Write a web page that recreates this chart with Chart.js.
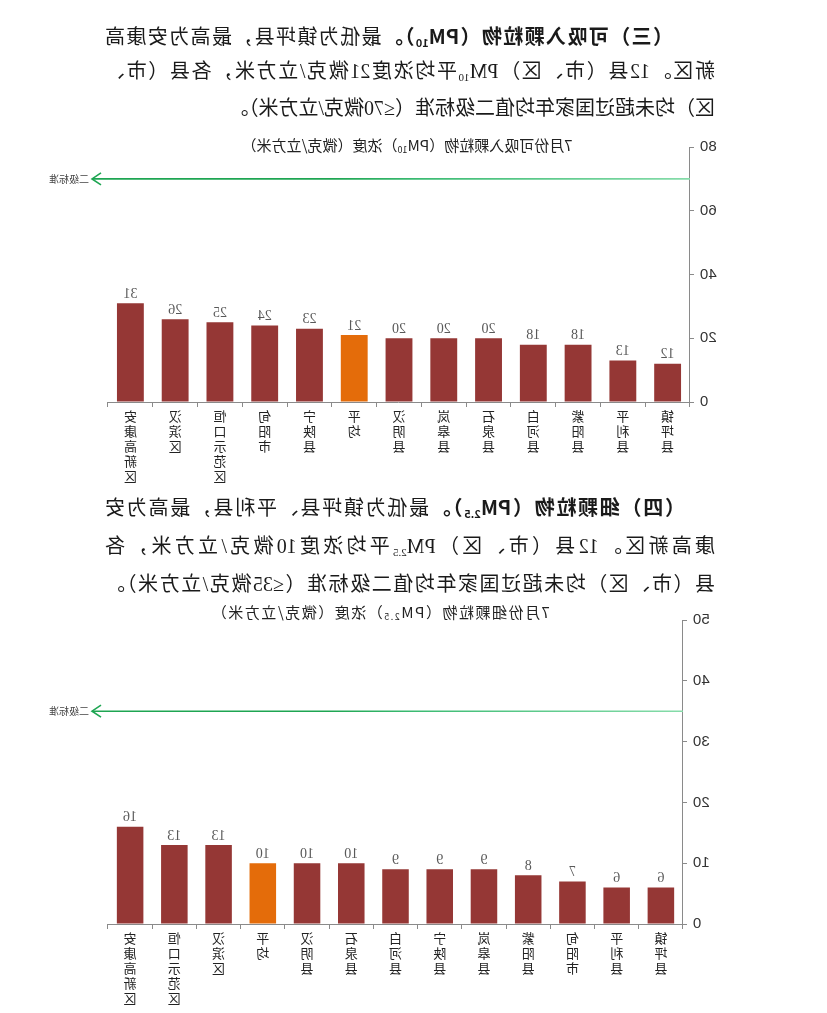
<!DOCTYPE html>
<html>
<head>
<meta charset="utf-8">
<script src="https://cdn.jsdelivr.net/npm/chart.js@4.4.1/dist/chart.umd.min.js"></script>
<style>
  html, body { margin: 0; padding: 0; background: #fff; }
  #page { position: relative; width: 827px; height: 1013px; overflow: hidden; transform: scaleX(-1); background: #fff; }
  .line { position: absolute; left: 112px; width: 610px; font-family: "Liberation Serif", "Noto Sans CJK SC", serif; font-size: 20px; line-height: 24px; color: #1a1a1a; text-align: justify; text-align-last: justify; }
  .line b { font-family: "Noto Sans CJK SC", sans-serif; font-weight: 700; }
  .line sub { font-size: 11px; line-height: 0; vertical-align: -3px; }
  .last { text-align-last: left; }
  .ctitle { position: absolute; font-family: "Noto Sans CJK SC", sans-serif; font-size: 15px; line-height: 18px; color: #222; white-space: nowrap; transform: translateX(-50%); }
  .ctitle sub { font-size: 9px; line-height: 0; vertical-align: -2px; }
  .chartbox { position: absolute; left: 0; width: 827px; }
</style>
</head>
<body>
<div id="page">
  <div class="line" style="top:24px; text-indent:42px;"><b>（三）可吸入颗粒物（PM<sub>10</sub>）。</b>最低为镇坪县，最高为安康高</div>
  <div class="line" style="top:59px;">新区。12县（市、区）PM<sub>10</sub>平均浓度21微克/立方米，各县（市、</div>
  <div class="line last" style="top:96px;">区）均未超过国家年均值二级标准（≤70微克/立方米）。</div>

  <div class="ctitle" style="left:420px; top:136px;">7月份可吸入颗粒物（PM<sub>10</sub>）浓度（微克/立方米）</div>
  <div class="chartbox" style="top:130px; height:360px;"><canvas id="c1"></canvas></div>

  <div class="line" style="top:495px; text-indent:30px;"><b>（四）细颗粒物（PM<sub>2.5</sub>）。</b>最低为镇坪县、平利县，最高为安</div>
  <div class="line" style="top:534px;">康高新区。12县（市、区）PM<sub>2.5</sub>平均浓度10微克/立方米，各</div>
  <div class="line" style="top:572px;">县（市、区）均未超过国家年均值二级标准（≤35微克/立方米）。</div>

  <div class="ctitle" style="left:447px; top:603px; letter-spacing:1.5px;">7月份细颗粒物（PM<sub>2.5</sub>）浓度（微克/立方米）</div>
  <div class="chartbox" style="top:605px; height:408px;"><canvas id="c2"></canvas></div>
</div>

<script>
// ---- data ----
const pm10Categories = ["镇坪县", "平利县", "紫阳县", "白河县", "石泉县", "岚皋县", "汉阴县", "平均", "宁陕县", "旬阳市", "恒口示范区", "汉滨区", "安康高新区"];
const pm10Values = [12, 13, 18, 18, 20, 20, 20, 21, 23, 24, 25, 26, 31];
const pm10Standard = 70;
const pm10AxisMax = 80;
const pm10AxisStep = 20;

const pm25Categories = ["镇坪县", "平利县", "旬阳市", "紫阳县", "岚皋县", "宁陕县", "白河县", "石泉县", "汉阴县", "平均", "汉滨区", "恒口示范区", "安康高新区"];
const pm25Values = [6, 6, 7, 8, 9, 9, 9, 10, 10, 10, 13, 13, 16];
const pm25Standard = 35;
const pm25AxisMax = 50;
const pm25AxisStep = 10;

const standardLabel = "二级标准";
const averageName = "平均";

// ---- styles ----
const barColor = "#953735";
const avgColor = "#E46C0A";
const axisColor = "#8a8a8a";

const valueLabelPlugin = {
  id: "valueLabels",
  afterDatasetsDraw(chart) {
    const ctx = chart.ctx;
    const meta = chart.getDatasetMeta(0);
    const vals = chart.data.datasets[0].data;
    ctx.save();
    ctx.font = "14px 'Liberation Serif', serif";
    ctx.fillStyle = "#595959";
    ctx.textAlign = "center";
    ctx.textBaseline = "bottom";
    meta.data.forEach((bar, i) => {
      ctx.fillText(String(vals[i]), bar.x, bar.y - 2);
    });
    ctx.restore();
  }
};

const standardLinePlugin = {
  id: "standardLine",
  afterDatasetsDraw(chart, args, opts) {
    const ctx = chart.ctx;
    const area = chart.chartArea;
    const y = chart.scales.y.getPixelForValue(opts.value);
    const x0 = area.left;
    const x1 = area.right + 16;
    ctx.save();
    const g = ctx.createLinearGradient(x0, 0, x1, 0);
    g.addColorStop(0, "#86dcaa");
    g.addColorStop(0.45, "#3cbb73");
    g.addColorStop(0.6, "#1ea552");
    g.addColorStop(1, "#1ea552");
    ctx.strokeStyle = g;
    ctx.lineWidth = 1.6;
    ctx.beginPath();
    ctx.moveTo(x0, y);
    ctx.lineTo(x1, y);
    ctx.stroke();
    ctx.strokeStyle = "#1ea552";
    ctx.beginPath();
    ctx.moveTo(x1 - 9, y - 6);
    ctx.lineTo(x1, y);
    ctx.lineTo(x1 - 9, y + 6);
    ctx.stroke();
    ctx.font = "10px 'Noto Sans CJK SC', sans-serif";
    ctx.fillStyle = "#444";
    ctx.textAlign = "left";
    ctx.textBaseline = "middle";
    ctx.fillText(opts.label, x1 + 3, y);
    ctx.restore();
  }
};

function makeChart(id, categories, values, standard, axisMax, axisStep, padLeft, padTop, xHeight) {
  const labels = categories.map(c => Array.from(c));
  const colors = categories.map(c => c === averageName ? avgColor : barColor);
  return new Chart(document.getElementById(id), {
    type: "bar",
    data: {
      labels: labels,
      datasets: [{
        data: values,
        backgroundColor: colors,
        borderWidth: 0,
        barPercentage: 0.6,
        categoryPercentage: 1.0
      }]
    },
    options: {
      responsive: true,
      maintainAspectRatio: false,
      animation: false,
      layout: { padding: { left: padLeft, right: 108, top: padTop, bottom: 0 } },
      plugins: {
        legend: { display: false },
        tooltip: { enabled: false },
        title: { display: false },
        standardLine: { value: standard, label: standardLabel }
      },
      scales: {
        x: {
          offset: true,
          grid: { display: true, drawOnChartArea: false, drawTicks: true, tickLength: 5, color: axisColor, offset: true },
          border: { display: true, color: axisColor, width: 1 },
          ticks: {
            autoSkip: false, maxRotation: 0, minRotation: 0, padding: 2,
            color: "#222",
            font: { family: "'Noto Sans CJK SC', sans-serif", size: 13, lineHeight: 1.15 }
          },
          afterFit(scale) { scale.height = xHeight; }
        },
        y: {
          min: 0, max: axisMax,
          grid: { display: true, drawOnChartArea: false, drawTicks: true, tickLength: 4, color: axisColor },
          border: { display: true, color: axisColor, width: 1 },
          ticks: {
            stepSize: axisStep, padding: 6, color: "#333",
            font: { family: "'Liberation Sans', sans-serif", size: 15 }
          },
          afterFit(scale) { scale.width = 40; }
        }
      }
    },
    plugins: [valueLabelPlugin, standardLinePlugin]
  });
}

makeChart("c1", pm10Categories, pm10Values, pm10Standard, pm10AxisMax, pm10AxisStep, 97, 17, 88);
makeChart("c2", pm25Categories, pm25Values, pm25Standard, pm25AxisMax, pm25AxisStep, 104, 15, 89);
</script>
</body>
</html>
